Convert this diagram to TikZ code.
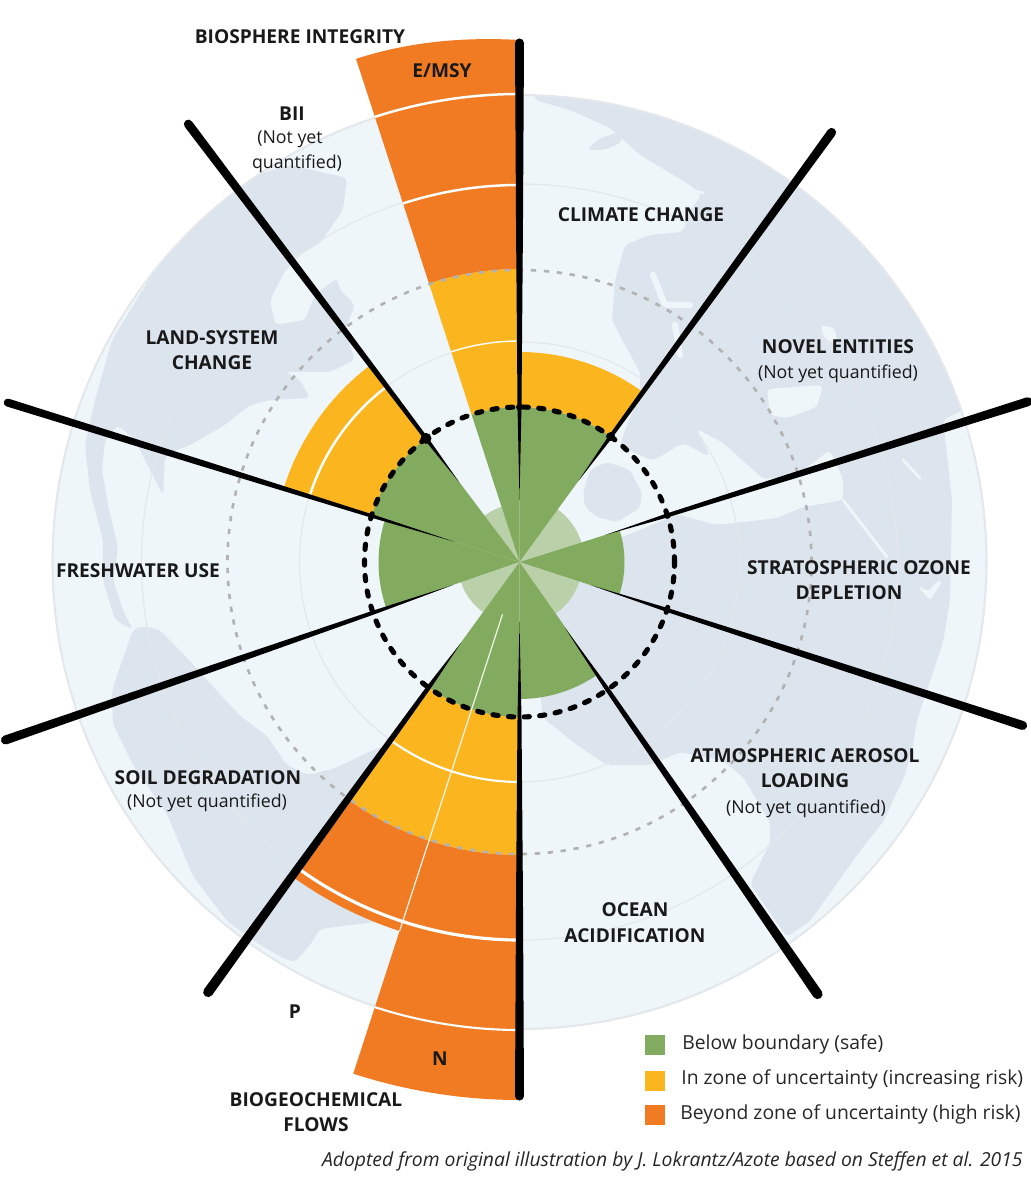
\documentclass[tikz,border=0pt]{standalone}
\usepackage{fontspec}
\setmainfont{Open Sans}
\definecolor{oceanblue}{HTML}{EEF6FA}
\definecolor{landblue}{HTML}{DCE4EE}
\definecolor{ringgrey}{HTML}{E4E8EC}
\definecolor{safegreen}{HTML}{83AB5F}
\definecolor{palegreen}{HTML}{BAD0A8}
\definecolor{riskyellow}{HTML}{FBB61F}
\definecolor{highorange}{HTML}{F07B23}
\tikzset{
  heading/.style={font=\bfseries\fontsize{10.9}{12}\selectfont, inner sep=0pt, text=black!90},
  subnote/.style={font=\fontsize{10.1}{11}\selectfont, inner sep=0pt, text=black!90},
  keytext/.style={font=\fontsize{11}{12}\selectfont, inner sep=0pt, anchor=west, text=black!85},
  keybox/.style={minimum width=4mm, minimum height=4mm, inner sep=0pt},
  land/.style={fill=landblue, rounded corners=2.5pt},
  sea/.style={fill=oceanblue, rounded corners=2.5pt},
  seastroke/.style={draw=oceanblue, line width=1.6pt, line cap=round, rounded corners=2pt}
}
% ring sector: colour, from angle, to angle, inner radius, outer radius
\newcommand{\ringpart}[5]{\fill[#1] (#2:#4) arc[start angle=#2, end angle=#3, radius=#4] -- (#3:#5) arc[start angle=#3, end angle=#2, radius=#5] -- cycle;}
\newcommand{\ringline}[4]{\draw[white, line width=#4] (#1:#3) arc[start angle=#1, end angle=#2, radius=#3];}
\begin{document}
\begin{tikzpicture}[x=0.2mm, y=0.2mm]
  \useasboundingbox (-519.5,-638) rectangle (510.5,562);
  \fill[oceanblue] (0,0) circle[radius=467];
  % continents, typed in image pixels
  \begin{scope}
    \clip (0,0) circle[radius=467];
    \begin{scope}[shift={(-519.5,562)}, y=-0.2mm]
      \fill[land] (535,100) -- (530,70) -- (1100,70) -- (1100,405) -- (963,410) -- (943,420) -- (952,500) -- (950,600) -- (943,642) -- (917,720) -- (913,745) -- (905,775) -- (883,822) -- (860,851) -- (810,921) -- (787,937) -- (750,884) -- (770,843) -- (770,822) -- (743,777) -- (723,761) -- (680,752) -- (650,765) -- (607,765) -- (577,745) -- (543,718) -- (530,600) -- (540,570) -- (590,545) -- (625,430) -- (640,395) -- (640,372) -- (625,345) -- (612,320) -- (615,280) -- (625,245) -- (650,235) -- (683,232) -- (690,210) -- (702,195) -- (690,185) -- (640,155) -- (610,128) -- (570,110) -- cycle;
      \fill[sea] (617,445) -- (653,461) -- (683,443) -- (710,457) -- (697,429) -- (723,443) -- (763,479) -- (797,475) -- (830,450) -- (843,479) -- (843,500) -- (803,507) -- (777,518) -- (717,525) -- (677,514) -- (640,530) -- (560,560) -- (590,500) -- cycle;
      \fill[land] (583,493) -- (590,470) -- (607,462) -- (630,470) -- (642,493) -- (640,508) -- (617,522) -- (597,517) -- (585,507) -- cycle;
      \fill[sea] (767,389) -- (823,385) -- (817,407) -- (787,418) -- (770,415) -- cycle;
      \fill[sea] (820,325) -- (835,328) -- (837,343) -- (825,340) -- cycle;
      \fill[sea] (917,585) -- (930,601) -- (943,580) -- (935,582) -- (929,592) -- cycle;
      \draw[seastroke, line width=3.5pt] (653,275) -- (665,305) -- (690,305);
      \draw[seastroke, line width=3.5pt] (675,325) -- (680,355);
      \draw[seastroke] (627,179) -- (653,200);
      \draw[seastroke] (660,182) -- (703,193);
      \draw[seastroke] (843,500) -- (887,557);
      \draw[seastroke] (903,460) -- (920,478);
      \fill[land] (587,150) -- (600,138) -- (620,132) -- (622,142) -- (605,150) -- cycle;
      \fill[land] (670,257) -- (690,250) -- (693,262) -- (680,263) -- cycle;
      % the two Americas
      \fill[land] (347,178) -- (290,165) -- (240,180) -- (205,214) -- (161,260) -- (112,340) -- (95,400) -- (85,445) -- (90,490) -- (103,540) -- (103,580) -- (115,620) -- (133,630) -- (123,610) -- (113,580) -- (118,548) -- (108,505) -- (102,470) -- (105,440) -- (118,425) -- (135,440) -- (150,470) -- (163,495) -- (165,455) -- (190,445) -- (225,425) -- (250,405) -- (270,400) -- (310,398) -- (300,380) -- (285,372) -- (330,372) -- (355,360) -- (345,330) -- (355,305) -- (340,290) -- (337,278) -- (315,295) -- (305,320) -- (275,325) -- (270,300) -- (285,271) -- (300,255) -- (320,243) -- (343,210) -- cycle;
      \fill[land] (143,626) -- (133,630) -- (120,667) -- (112,691) -- (113,724) -- (133,765) -- (167,814) -- (193,876) -- (227,921) -- (260,945) -- (287,960) -- (295,962) -- (310,945) -- (320,929) -- (383,921) -- (420,900) -- (420,740) -- (380,747) -- (333,769) -- (307,775) -- (287,765) -- (267,736) -- (240,716) -- (217,691) -- (187,658) -- (160,630) -- cycle;
    \end{scope}
  \end{scope}
  \draw[ringgrey, line width=0.7pt] (0,0) circle[radius=220];
  \draw[ringgrey, line width=0.7pt] (0,0) circle[radius=378];
  \draw[ringgrey, line width=1.2pt] (0,0) circle[radius=467];
  % not quantified
  \foreach \from/\to/\rad in {108/127/58, 54/17.5/65, -18/-55/63, 199/234/62}
    \fill[palegreen] (0,0) -- (\from:\rad) arc[start angle=\from, end angle=\to, radius=\rad] -- cycle;
  % safe part
  \foreach \from/\to/\rad in {90/54/155, 108/90/155, 127/162.5/155, 162.5/199/141, 17.5/-18/105, -55/-90/137, 234/270/155}
    \fill[safegreen] (0,0) -- (\from:\rad) arc[start angle=\from, end angle=\to, radius=\rad] -- cycle;
  % zone of uncertainty and beyond
  \ringpart{riskyellow}{108}{90}{155}{293}
  \fill[highorange] (108:293) -- (108:529) .. controls (102:532) and (96:528) .. (90:522) -- (90:293) arc[start angle=90, end angle=108, radius=293] -- cycle;
  \ringpart{riskyellow}{90}{54}{155}{210}
  \ringpart{riskyellow}{127}{162.5}{155}{247}
  \ringpart{riskyellow}{234}{270}{155}{293}
  \ringpart{highorange}{234}{252}{293}{388}
  \ringpart{highorange}{252}{270}{293}{538}
  \ringline{108}{90}{468}{1.4pt}
  \ringline{108}{90}{377}{1.4pt}
  \ringline{108}{90}{221}{0.8pt}
  \ringline{127}{162.5}{220}{1.4pt}
  \ringline{234}{270}{220}{1.2pt}
  \ringline{234}{270}{378}{1.8pt}
  \ringline{252}{270}{468}{1.2pt}
  \draw[white!75!palegreen, line width=0.7pt] (252:55) -- (252:388);
  \draw[black!30, line width=1.5pt, dash pattern=on 3pt off 4.4pt] (0,0) circle[radius=292];
  \draw[black, line width=2.9pt, line cap=round, dash pattern=on 3pt off 5.9pt] (0,0) circle[radius=155];
  % spokes, thin at the hub
  \foreach \ang/\tip/\wid/\inr in {90/519/9/62, 54/531/9/100, 17.5/533/9/90, -18/529/9/75, -55.4/525/10/80, -90/534/9/60, 234.1/531/10/100, 199.1/544/9/70, 162.7/536/8/68, 127.1/549/9/100}
    \fill[black, rotate=\ang] (\inr,0) -- (155,\wid*.22) -- (330,\wid*.38) -- (\tip,\wid/2) arc[start angle=90, end angle=-90, radius=\wid/2] -- (330,-\wid*.38) -- (155,-\wid*.22) -- cycle;
  \foreach \ang/\rad in {127.1/5.5, 54/4.5, 90/3.5, 17.5/3.5}
    \fill[black] (\ang:155) circle[radius=\rad];
  % labels
  \begin{scope}[shift={(-519.5,562)}, y=-0.2mm]
    \node[heading] (biosphere) at (300,37) {BIOSPHERE INTEGRITY};
    \node[heading] (emsy) at (442,71) {E/MSY};
    \node[heading] (bii) at (292,114) {BII};
    \node[subnote] (biiNoteA) at (290,139) {(Not yet};
    \node[subnote] (biiNoteB) at (297,164) {quantified)};
    \node[heading] (landA) at (212,338) {LAND-SYSTEM};
    \node[heading] (landB) at (212,363) {CHANGE};
    \node[heading] (climate) at (641,215) {CLIMATE CHANGE};
    \node[heading] (novel) at (838,347) {NOVEL ENTITIES};
    \node[subnote] (novelNote) at (838,374) {(Not yet quantified)};
    \node[heading] (fresh) at (138,571) {FRESHWATER USE};
    \node[heading] (ozoneA) at (859,568) {STRATOSPHERIC OZONE};
    \node[heading] (ozoneB) at (849,593) {DEPLETION};
    \node[heading] (aeroA) at (805,756) {ATMOSPHERIC AEROSOL};
    \node[heading] (aeroB) at (805,781) {LOADING};
    \node[subnote] (aeroNote) at (806,809) {(Not yet quantified)};
    \node[heading] (soil) at (208,778) {SOIL DEGRADATION};
    \node[subnote] (soilNote) at (207,803) {(Not yet quantified)};
    \node[heading] (oceanA) at (635,910) {OCEAN};
    \node[heading] (oceanB) at (635,936) {ACIDIFICATION};
    \node[heading] (phos) at (295,1012) {P};
    \node[heading] (nitro) at (440,1059) {N};
    \node[heading] (flowsA) at (316,1100) {BIOGEOCHEMICAL};
    \node[heading] (flowsB) at (316,1125) {FLOWS};
    % legend
    \node[keybox, fill=safegreen] (keySafe) at (655,1045) {};
    \node[keybox, fill=riskyellow] (keyRisk) at (655,1081) {};
    \node[keybox, fill=highorange] (keyHigh) at (655,1115) {};
    \node[keytext] (textSafe) at (682,1044) {Below boundary (safe)};
    \node[keytext] (textRisk) at (681,1079) {In zone of uncertainty (increasing risk)};
    \node[keytext] (textHigh) at (680,1114) {Beyond zone of uncertainty (high risk)};
    \node[font=\itshape\fontsize{11}{12}\selectfont, inner sep=0pt, anchor=east, text=black!85] (credit) at (1023,1161) {Adopted from original illustration by J. Lokrantz/Azote based on Steffen et al. 2015};
  \end{scope}
\end{tikzpicture}
\end{document}
